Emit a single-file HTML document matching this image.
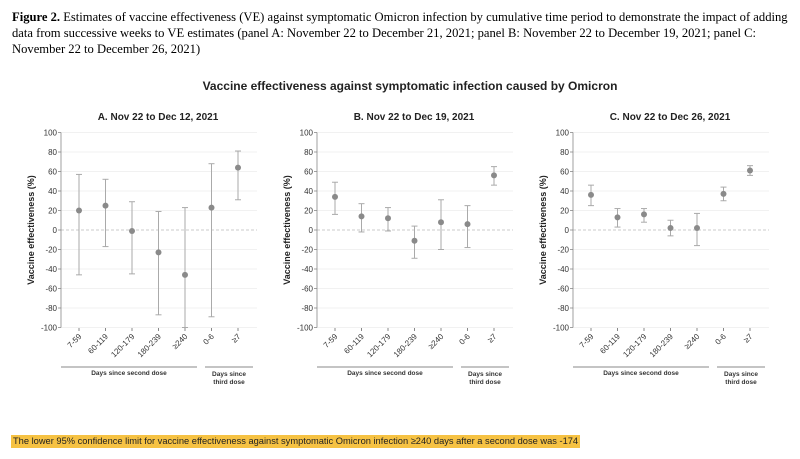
<!DOCTYPE html>
<html><head><meta charset="utf-8"><style>
body{margin:0;width:800px;height:459px;background:#fff;overflow:hidden;position:relative}
.cap{position:absolute;left:12px;top:9px;font-family:"Liberation Serif",serif;font-size:12.6px;line-height:16px;color:#000;white-space:nowrap}
.note{position:absolute;left:11px;top:435px;background:#f6c243;font-family:"Liberation Sans",sans-serif;font-size:9.3px;line-height:13px;padding:0 2px;color:#222;white-space:nowrap}
svg{position:absolute;left:0;top:0}
</style></head><body>
<div class="cap"><b>Figure 2.</b> Estimates of vaccine effectiveness (VE) against symptomatic Omicron infection by cumulative time period to demonstrate the impact of adding<br>data from successive weeks to VE estimates (panel A: November 22 to December 21, 2021; panel B: November 22 to December 19, 2021; panel C:<br>November 22 to December 26, 2021)</div>
<svg id="s" width="800" height="459" font-family="Liberation Sans, sans-serif"></svg>
<div class="note">The lower 95% confidence limit for vaccine effectiveness against symptomatic Omicron infection ≥240 days after a second dose was -174</div>
<script>
var s=document.getElementById('s'),h='';
h+='<text x="410" y="90" font-size="12" font-weight="bold" text-anchor="middle" fill="#222">Vaccine effectiveness against symptomatic infection caused by Omicron</text>';
var titles=['A. Nov 22 to Dec 12, 2021','B. Nov 22 to Dec 19, 2021','C. Nov 22 to Dec 26, 2021'];
var data=[
[[20,-46,57],[25,-17,52],[-1,-45,29],[-23,-87,19],[-46,-100,23],[23,-89,68],[64,31,81]],
[[34,16,49],[14,-2,27],[12,-1,23],[-11,-29,4],[8,-20,31],[6,-18,25],[56,46,65]],
[[36,25,46],[13,3,22],[16,8,22],[2,-6,10],[2,-16,17],[37,30,44],[61,56,66]]];
var cats=['7-59','60-119','120-179','180-239','≥240','0-6','≥7'];
function Y(v){return 230-v*0.975;}
for(var p=0;p<3;p++){
 var ax=61+p*256;
 h+='<text x="'+(ax+97)+'" y="120" font-size="10" font-weight="bold" text-anchor="middle" fill="#222">'+titles[p]+'</text>';
 for(var v=-100;v<=100;v+=20){
  var y=Y(v);
  if(v==0) h+='<line x1="'+ax+'" x2="'+(ax+196)+'" y1="'+y+'" y2="'+y+'" stroke="#bbb" stroke-width="0.8" stroke-dasharray="3,2"/>';
  else h+='<line x1="'+ax+'" x2="'+(ax+196)+'" y1="'+y+'" y2="'+y+'" stroke="#ececec" stroke-width="0.8"/>';
  h+='<line x1="'+(ax-3)+'" x2="'+ax+'" y1="'+y+'" y2="'+y+'" stroke="#888" stroke-width="0.8"/>';
  h+='<text x="'+(ax-4)+'" y="'+(y+3)+'" font-size="8" text-anchor="end" fill="#333">'+v+'</text>';
 }
 h+='<line x1="'+ax+'" x2="'+ax+'" y1="'+Y(100)+'" y2="'+Y(-100)+'" stroke="#888" stroke-width="0.8"/>';
 h+='<text transform="translate('+(ax-27)+',230) rotate(-90)" font-size="9" font-weight="bold" text-anchor="middle" fill="#222">Vaccine effectiveness (%)</text>';
 for(var i=0;i<7;i++){
  var x=ax+18+i*26.5,d=data[p][i];
  h+='<line x1="'+x+'" x2="'+x+'" y1="'+Y(d[2])+'" y2="'+Y(d[1])+'" stroke="#aaa" stroke-width="1"/>';
  h+='<line x1="'+(x-3)+'" x2="'+(x+3)+'" y1="'+Y(d[2])+'" y2="'+Y(d[2])+'" stroke="#aaa"/>';
  h+='<line x1="'+(x-3)+'" x2="'+(x+3)+'" y1="'+Y(d[1])+'" y2="'+Y(d[1])+'" stroke="#aaa"/>';
  h+='<circle cx="'+x+'" cy="'+Y(d[0])+'" r="3" fill="#8a8a8a"/>';
  h+='<line x1="'+x+'" x2="'+x+'" y1="328" y2="331" stroke="#888"/>';
  h+='<text transform="translate('+(x+3)+',337) rotate(-45)" font-size="8" text-anchor="end" fill="#333">'+cats[i]+'</text>';
 }
 h+='<line x1="'+ax+'" x2="'+(ax+136)+'" y1="367" y2="367" stroke="#888" stroke-width="1"/>';
 h+='<line x1="'+(ax+144)+'" x2="'+(ax+192)+'" y1="367" y2="367" stroke="#888" stroke-width="1"/>';
 h+='<text x="'+(ax+68)+'" y="375" font-size="6.5" font-weight="bold" text-anchor="middle" fill="#333">Days since second dose</text>';
 h+='<text x="'+(ax+168)+'" y="376" font-size="6.5" font-weight="bold" text-anchor="middle" fill="#333">Days since</text>';
 h+='<text x="'+(ax+168)+'" y="384" font-size="6.5" font-weight="bold" text-anchor="middle" fill="#333">third dose</text>';
}
s.innerHTML=h;
</script>
</body></html>
